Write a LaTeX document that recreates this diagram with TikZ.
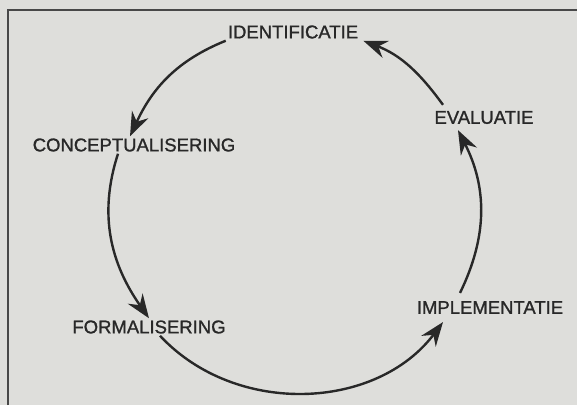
\documentclass[tikz,border=0pt]{standalone}
\usepackage{fontspec}
\setmainfont{Liberation Sans}
\newfontfamily\phasefont[FakeBold=1.2]{Liberation Sans}
\usepackage{xcolor}
\usepackage{tikz}
\usetikzlibrary{
    positioning,
    arrows.meta,
    calc
}
\definecolor{paper}{RGB}{222,222,219}
\definecolor{ink}{RGB}{40,40,40}
\tikzset{
  phase/.style = {
      font=\phasefont\fontsize{18.5}{20}\selectfont,
      text=ink,
      inner sep=2pt
  },
  cycle edge/.style = {
      draw=ink,
      line width=2.4pt,
      -{Stealth[length=24pt,width=18pt,inset=8pt]}
  },
  frame/.style = {
      draw=ink!85,
      line width=1.6pt
  }
}

\begin{document}
\begin{tikzpicture}[x=1pt,y=1pt]
    % Page
    \fill[paper] (0,0) rectangle (577,405);
    \useasboundingbox (0,0) rectangle (577,405);
    \draw[frame] (8,0) -- (8,395) -- (577,395);
    % Nodes
    \node[phase] (ident) at (293,373) {IDENTIFICATIE};
    \node[phase] (concept) at (134,260) {CONCEPTUALISERING};
    \node[phase] (formal) at (149,78) {FORMALISERING};
    \node[phase] (impl) at (490,97.5) {IMPLEMENTATIE};
    \node[phase] (evalu) at (484,287.5) {EVALUATIE};
    % Edges
    \path[cycle edge]
    (ident.south west) to[out=202,in=65] ([xshift=-4pt]concept.north);
    \path[cycle edge]
    ([xshift=-16pt]concept.south) to[out=252,in=125] (formal.north);
    \path[cycle edge]
    ([xshift=11pt]formal.south) to[out=313,in=233] ([xshift=-47pt,yshift=-6pt]impl.south);
    \path[cycle edge]
    ([xshift=-30pt,yshift=6pt]impl.north) to[out=64,in=297] ([xshift=-26pt,yshift=-4pt]evalu.south);
    \path[cycle edge]
    ([xshift=-41pt,yshift=4pt]evalu.north) to[out=126,in=339] ([xshift=3pt]ident.south east);
\end{tikzpicture}
\end{document}
